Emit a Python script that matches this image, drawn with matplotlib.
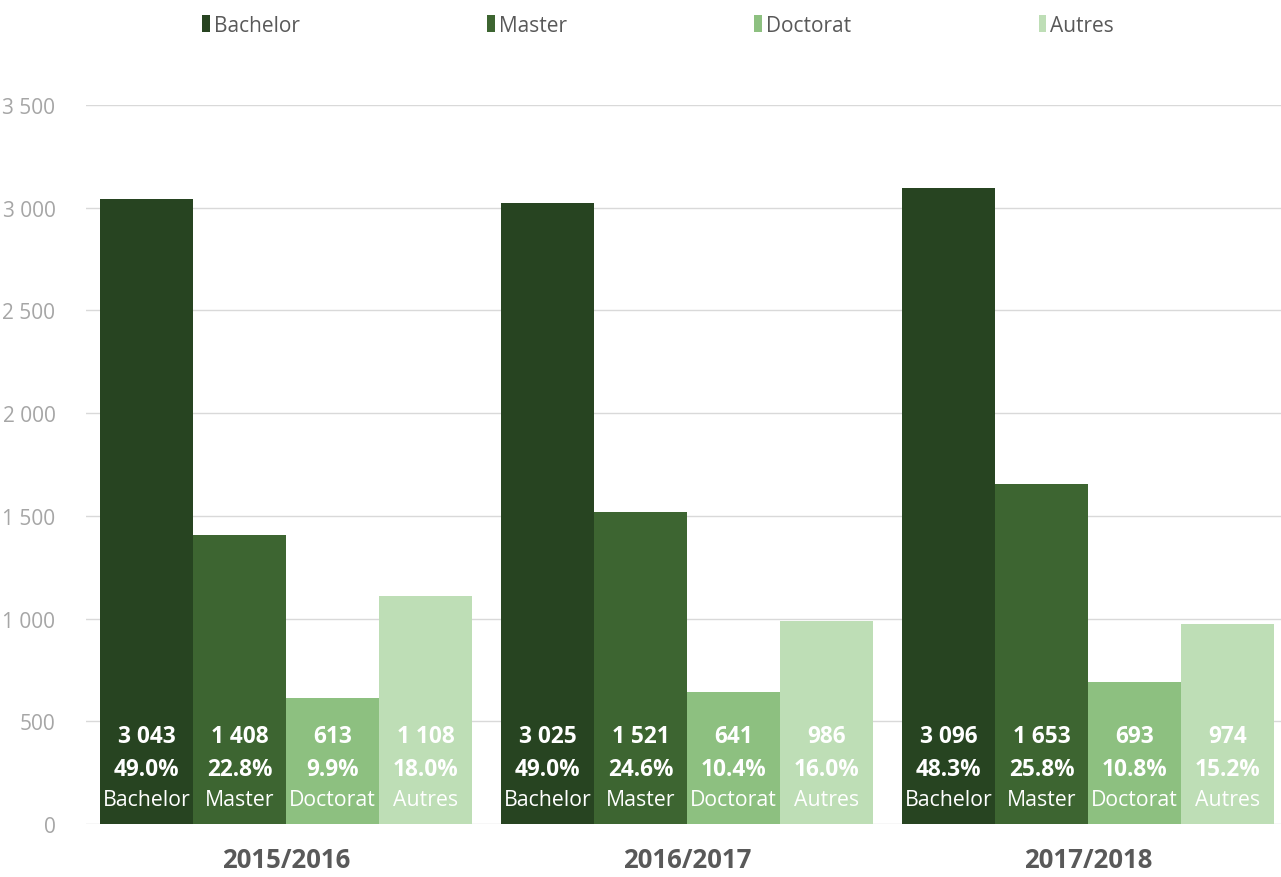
import matplotlib
matplotlib.use("Agg")
import matplotlib.pyplot as plt
from matplotlib.patches import Patch
import numpy as np

years = ["2015/2016", "2016/2017", "2017/2018"]
categories = ["Bachelor", "Master", "Doctorat", "Autres"]
values = {
    "Bachelor": [3043, 3025, 3096],
    "Master": [1408, 1521, 1653],
    "Doctorat": [613, 641, 693],
    "Autres": [1108, 986, 974],
}
percents = {
    "Bachelor": ["49.0%", "49.0%", "48.3%"],
    "Master": ["22.8%", "24.6%", "25.8%"],
    "Doctorat": ["9.9%", "10.4%", "10.8%"],
    "Autres": ["18.0%", "16.0%", "15.2%"],
}
colors = ["#274421", "#3d6531", "#8dc080", "#bedeb6"]
yticks = [0, 500, 1000, 1500, 2000, 2500, 3000, 3500]

plt.rcParams["font.family"] = ["Open Sans", "DejaVu Sans"]

fig = plt.figure(figsize=(12.81, 8.78), dpi=100)
ax = fig.add_axes([86 / 1281, 53 / 878, 1 - 86 / 1281, (825 - 106) / 878])

def fmt(v):
    return f"{v:,}".replace(",", " ")

x = np.arange(len(years))
w = 0.232
for i, cat in enumerate(categories):
    xs = x + (i - 1.5) * w
    ax.bar(xs, values[cat], width=w, color=colors[i], zorder=2, linewidth=0)
    for j, xx in enumerate(xs):
        ax.text(xx, 120, categories[i], ha="center", va="center", color="white",
                fontsize=15.3, zorder=3)
        ax.text(xx, 268, percents[cat][j], ha="center", va="center", color="white",
                fontsize=16.3, fontweight="bold", zorder=3)
        ax.text(xx, 430, fmt(values[cat][j]), ha="center", va="center", color="white",
                fontsize=16.3, fontweight="bold", zorder=3)

ax.set_ylim(0, 3500)
ax.set_xlim(-0.499, 2.481)
ax.set_yticks(yticks)
ax.set_yticklabels([fmt(v) for v in yticks], color="#a6a6a6", fontsize=15)
ax.tick_params(axis="y", length=0, pad=22)
ax.set_xticks(x)
ax.set_xticklabels(years, fontsize=18.5, fontweight="bold", color="#595959")
ax.tick_params(axis="x", length=0, pad=16)
ax.grid(axis="y", color="#d9d9d9", linewidth=1, zorder=0)
for s in ax.spines.values():
    s.set_visible(False)

handles = [Patch(facecolor=c, edgecolor="none") for c in colors]
leg = fig.legend(handles, categories, loc="center", bbox_to_anchor=(658 / 1281, 1 - 26 / 878),
                 ncol=4, frameon=False, fontsize=15, handlelength=0.36, handleheight=0.85,
                 handletextpad=0.2, columnspacing=9.0)
for t in leg.get_texts():
    t.set_color("#595959")

fig.savefig("out.png", dpi=100)
